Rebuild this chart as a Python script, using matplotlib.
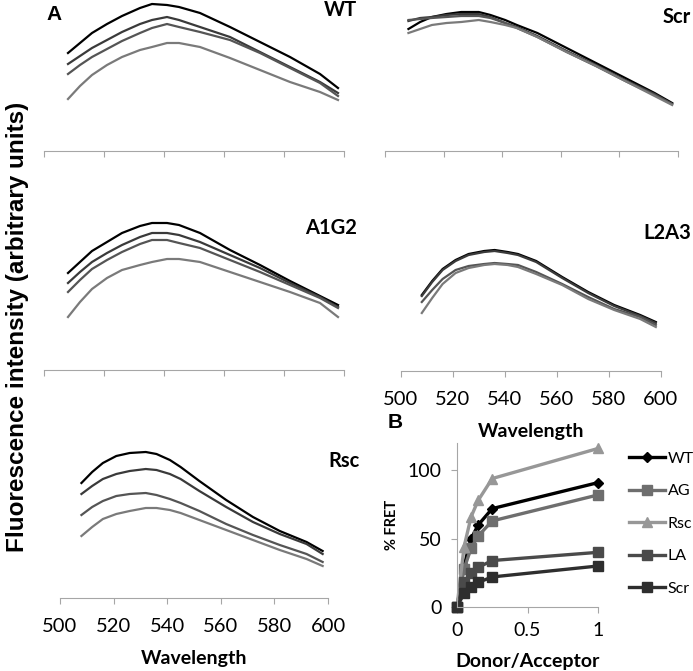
import matplotlib
matplotlib.use("Agg")
import matplotlib.pyplot as plt

W, H = 693, 671

# wavelength grid (nm) shared by all spectra
wl = [508, 512, 516, 521, 526, 532, 536, 541, 545, 552, 562, 572, 582, 592, 598]

# fluorescence (arbitrary units), four titration points per construct
wt_1 = [98, 108, 118, 127, 135, 143, 147, 146, 144, 138, 124, 109, 94, 77, 63]
wt_2 = [87, 95, 103, 111, 119, 127, 131, 134, 131, 124, 114, 99, 84, 69, 58]
wt_3 = [77, 86, 94, 102, 110, 118, 123, 127, 124, 119, 111, 98, 83, 68, 55]
wt_4 = [52, 65, 76, 86, 94, 101, 104, 108, 108, 104, 93, 81, 69, 59, 51]

a1g2_1 = [97, 108, 119, 128, 137, 144, 147, 147, 145, 137, 120, 105, 89, 74, 65]
a1g2_2 = [87, 98, 108, 117, 125, 133, 137, 137, 135, 128, 115, 102, 87, 73, 63]
a1g2_3 = [78, 90, 101, 110, 118, 126, 130, 130, 127, 122, 110, 98, 85, 72, 62]
a1g2_4 = [53, 68, 81, 92, 100, 105, 108, 111, 111, 108, 98, 88, 78, 67, 53]

rsc_1 = [115, 126, 135, 142, 145, 146, 144, 138, 131, 117, 98, 81, 67, 56, 47]
rsc_2 = [104, 112, 119, 124, 127, 129, 128, 124, 119, 107, 91, 76, 64, 54, 44]
rsc_3 = [83, 91, 97, 102, 104, 105, 103, 99, 95, 87, 74, 63, 53, 44, 36]
rsc_4 = [62, 71, 79, 84, 87, 90, 90, 88, 85, 78, 68, 58, 48, 39, 32]

scr_1 = [122, 129, 134, 137, 139, 139, 136, 131, 126, 118, 103, 88, 73, 58, 48]
scr_2 = [130, 133, 134, 136, 137, 137, 134, 128, 124, 115, 100, 86, 71, 57, 47]
scr_3 = [131, 132, 133, 134, 135, 135, 133, 128, 123, 114, 99, 85, 70, 56, 47]
scr_4 = [118, 122, 126, 128, 129, 131, 129, 126, 123, 114, 99, 85, 70, 55, 46]

l2a3_1 = [76, 90, 102, 111, 117, 120, 121, 119, 117, 110, 94, 79, 66, 56, 49]
l2a3_2 = [75, 89, 101, 110, 116, 119, 120, 118, 116, 109, 93, 78, 65, 55, 48]
l2a3_3 = [69, 81, 92, 101, 105, 107, 108, 107, 106, 99, 87, 74, 62, 54, 46]
l2a3_4 = [58, 73, 87, 98, 103, 106, 107, 106, 104, 97, 86, 72, 61, 52, 44]

# panel B: % FRET vs donor/acceptor ratio
ratio = [0, 0.05, 0.1, 0.15, 0.25, 1]
fret_wt = [0, 30, 50, 60, 72, 91]
fret_ag = [0, 28, 43, 52, 63, 82]
fret_rsc = [0, 44, 66, 78, 94, 116]
fret_la = [0, 18, 25, 29, 34, 40]
fret_scr = [0, 10, 15, 18, 22, 30]

curve_colors = ["#000000", "#3a3a3a", "#555555", "#7a7a7a"]
calibri = ["Lato", "DejaVu Sans"]
axis_grey = "#a6a6a6"


def add_ax(left, right, top, bottom):
    return fig.add_axes([left / W, 1 - bottom / H, (right - left) / W, (bottom - top) / H])


def spectra_panel(box, curves, title, title_xy, labels=False):
    ax = add_ax(*box)
    for c, col in zip(curves, curve_colors):
        ax.plot(wl, c, color=col, lw=1.6)
    ax.set_xlim(500, 600)
    ax.set_ylim(0, box[3] - box[2])
    for s in ["top", "right", "left"]:
        ax.spines[s].set_visible(False)
    ax.spines["bottom"].set_color(axis_grey)
    ax.set_yticks([])
    ax.set_xticks(range(500, 601, 20))
    ax.tick_params(axis="x", direction="out", length=4.5, color=axis_grey, pad=10,
                   labelsize=14.5, labelbottom=labels)
    for t in ax.get_xticklabels():
        t.set_family(calibri)
    if labels:
        ax.set_xlabel("Wavelength", fontsize=14, fontweight="bold", family=calibri, labelpad=11)
    fig.text(title_xy[0] / W, 1 - title_xy[1] / H, title, ha="right", va="center",
             fontsize=14.5, fontweight="bold", family=calibri)
    return ax


fig = plt.figure(figsize=(W / 100, H / 100), dpi=100)

spectra_panel((44, 344, 0, 151), [wt_1, wt_2, wt_3, wt_4], "WT", (357, 10))
spectra_panel((385, 678, 0, 151), [scr_1, scr_2, scr_3, scr_4], "Scr", (691, 17))
spectra_panel((44, 344, 190, 370), [a1g2_1, a1g2_2, a1g2_3, a1g2_4], "A1G2", (357, 228))
spectra_panel((401, 661, 190, 371), [l2a3_1, l2a3_2, l2a3_3, l2a3_4], "L2A3", (691, 233), labels=True)
spectra_panel((60, 328, 400, 598), [rsc_1, rsc_2, rsc_3, rsc_4], "Rsc", (360, 461), labels=True)

fig.text(54 / W, 1 - 15 / H, "A", ha="center", va="center", fontsize=15, fontweight="bold",
         family="Liberation Sans")
fig.text(18 / W, 1 - 327 / H, "Fluorescence intensity (arbitrary units)", rotation=90,
         ha="center", va="center", fontsize=17.5, fontweight="bold", family="Liberation Sans")

# panel B
axb = add_ax(457, 598, 443, 607)
series = [
    (fret_wt, "WT", "#000000", "D", 5),
    (fret_ag, "AG", "#6e6e6e", "s", 6.5),
    (fret_rsc, "Rsc", "#979797", "^", 7.5),
    (fret_la, "LA", "#4a4a4a", "s", 6.5),
    (fret_scr, "Scr", "#2e2e2e", "s", 6.5),
]
for vals, name, col, mk, ms in series:
    axb.plot(ratio, vals, color=col, marker=mk, ms=ms, lw=2.4, label=name, clip_on=False)
axb.set_xlim(0, 1)
axb.set_ylim(0, 120)
axb.set_xticks([0, 0.5, 1])
axb.set_xticklabels(["0", "0.5", "1"])
axb.set_yticks([0, 50, 100])
for s in ["top", "right"]:
    axb.spines[s].set_visible(False)
for s in ["bottom", "left"]:
    axb.spines[s].set_color(axis_grey)
axb.tick_params(direction="out", length=4, color=axis_grey, labelsize=14, pad=7)
for t in axb.get_xticklabels() + axb.get_yticklabels():
    t.set_family(calibri)
axb.set_xlabel("Donor/Acceptor", fontsize=14, fontweight="bold", family=calibri, labelpad=10)
axb.set_ylabel("% FRET", fontsize=10.5, fontweight="bold", family=calibri, labelpad=6)
fig.text(395 / W, 1 - 423 / H, "B", ha="center", va="center", fontsize=15, fontweight="bold",
         family="Liberation Sans")
axb.legend(loc="upper left", bbox_to_anchor=(623 / W, 1 - 445 / H), bbox_transform=fig.transFigure,
           frameon=False, handlelength=2.2, handletextpad=0.2, labelspacing=1.15,
           prop={"family": calibri, "size": 11.5}, borderaxespad=0)

fig.savefig("out.png", dpi=100)
